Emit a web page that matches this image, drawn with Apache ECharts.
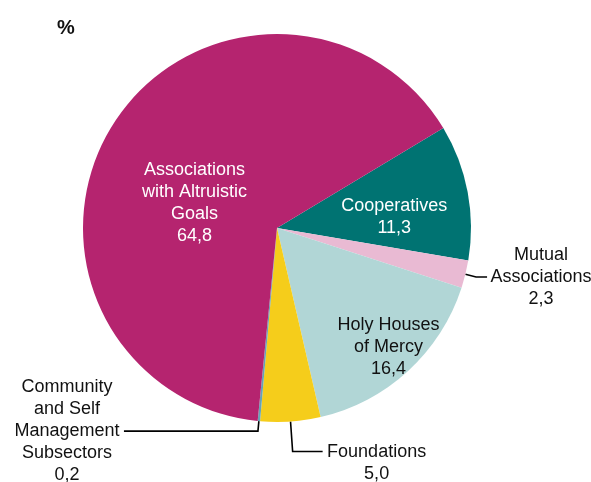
<!DOCTYPE html>
<html>
<head>
<meta charset="utf-8">
<script src="https://cdn.jsdelivr.net/npm/echarts@6/dist/echarts.min.js"></script>
<style>
  html, body { margin: 0; padding: 0; background: #fff; }
  #chart { width: 591px; height: 482px; }
</style>
</head>
<body>
<div id="chart"></div>
<script>
// Shares of the social economy by subsector, in percent (clockwise from Cooperatives)
const categories = [
  'Cooperatives',
  'Mutual\nAssociations',
  'Holy Houses\nof Mercy',
  'Foundations',
  'Community\nand Self\nManagement\nSubsectors',
  'Associations\nwith Altruistic\nGoals'
];
const values = [11.3, 2.3, 16.4, 5.0, 0.2, 64.8];

const colors = ['#007372', '#E9BAD3', '#B1D6D6', '#F5CD1B', '#67A3B5', '#B5246F'];
const FONT = 'Liberation Sans, Arial, sans-serif';

// large slices carry their label inside, nudged outwards
const insideLabel = {
  0: { color: '#ffffff', dx: 19, dy: 8 },
  2: { color: '#111111', dx: 44, dy: 45 },
  5: { color: '#ffffff', dx: 2, dy: 29 }
};
// small slices get an outside label with a leader line
const outsideLine = {
  1: { length: 11, length2: 11, width: 100, padding: [0, 0, 0, 0] },
  3: { length: 30, length2: 30, width: 100, padding: [24, 0, 0, 0] },
  4: { length: 10, length2: 134, width: 106, padding: [0, 0, 0, 0] }
};

function fmt(v) {
  return v.toFixed(1).replace('.', ',');
}

const pieData = categories.map((name, i) => {
  const item = { name: name, value: values[i], itemStyle: { color: colors[i] } };
  if (insideLabel[i]) {
    item.label = {
      position: 'inside',
      color: insideLabel[i].color,
      formatter: p => p.name + '\n' + fmt(p.value)
    };
    item.labelLine = { show: false };
  } else {
    const o = outsideLine[i];
    item.label = {
      position: 'outside',
      color: '#111111',
      padding: o.padding,
      distanceToLabelLine: 4,
      formatter: p => (p.name + '\n' + fmt(p.value)).split('\n').map(s => '{c|' + s + '}').join('\n'),
      rich: {
        c: { width: o.width, align: 'center', fontFamily: FONT, fontSize: 18, lineHeight: 22, color: '#111111' }
      }
    };
    item.labelLine = { show: true, length: o.length, length2: o.length2, lineStyle: { color: '#000000', width: 1.6 } };
  }
  return item;
});

const chart = echarts.init(document.getElementById('chart'), null, { renderer: 'canvas' });
chart.setOption({
  animation: false,
  backgroundColor: '#ffffff',
  title: {
    text: '%',
    left: 52,
    top: 13,
    textStyle: { fontFamily: FONT, fontSize: 20, fontWeight: 'bold', color: '#111111' }
  },
  series: [{
    type: 'pie',
    center: [277, 228],
    radius: [0, 194],
    startAngle: 31,
    clockwise: true,
    avoidLabelOverlap: false,
    itemStyle: { borderWidth: 0 },
    label: {
      show: true,
      fontFamily: FONT,
      fontSize: 18,
      lineHeight: 22,
      align: 'center'
    },
    labelLayout: p => {
      const s = insideLabel[p.dataIndex];
      return s ? { dx: s.dx, dy: s.dy } : {};
    },
    data: pieData
  }]
});
</script>
</body>
</html>
